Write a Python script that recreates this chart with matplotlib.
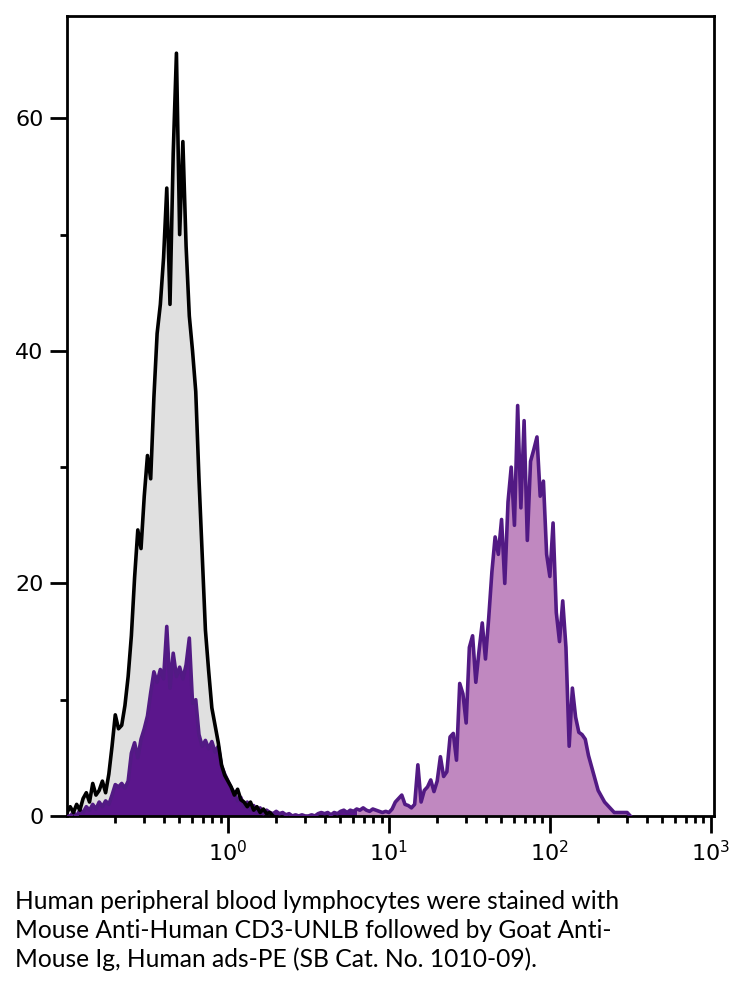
import numpy as np
import matplotlib
matplotlib.use("Agg")
import matplotlib.pyplot as plt
from matplotlib.ticker import FixedLocator, LogLocator, MultipleLocator, NullFormatter

# Histogram heights, on a log10 grid (start -1.0, step 0.02 decade)
log_start = -1.0
log_step = 0.02

# isotype control (black outline, grey fill)
control = [0.3, 0.8, 0.3, 1.0, 0.5, 1.5, 2.0, 1.2, 2.8, 1.8,
           2.2, 3.0, 2.0, 3.6, 6.0, 8.7, 7.5, 7.8, 9.5, 12.0,
           15.5, 20.5, 24.6, 23.0, 27.5, 31.0, 29.0, 36.0, 41.5, 44.0,
           48.0, 54.0, 44.0, 57.0, 65.6, 50.0, 58.0, 49.0, 43.0, 40.0,
           36.5, 29.0, 22.5, 16.0, 12.5, 9.3, 7.8, 6.3, 4.4, 3.5,
           3.0, 2.5, 1.8, 2.3, 1.4, 1.2, 0.8, 1.2, 0.5, 0.8,
           0.3, 0.6, 0.2, 0.3, 0.0]

# CD3 stained sample (purple)
stained = [0, 0, 0.3, 0, 0.5, 0.3, 0.8, 0.5, 1.0, 0.6,
           1.2, 0.8, 1.3, 1.0, 1.8, 2.7, 2.5, 2.8, 2.4, 3.0,
           5.4, 6.3, 5.0, 6.6, 7.5, 8.6, 10.6, 12.4, 11.5, 12.6,
           11.8, 16.3, 11.0, 14.0, 12.0, 12.8, 11.8, 13.0, 15.3, 9.7,
           10.0, 7.0, 6.0, 6.5, 5.8, 6.4, 5.5, 6.0, 4.3, 3.6,
           3.0, 2.4, 2.0, 1.3, 1.6, 0.8, 1.2, 0.5, 0.9, 0.3,
           0.7, 0.2, 0.5, 0.3, 0.2, 0.4, 0.2, 0.3, 0.1, 0.2,
           0, 0.1, 0, 0.1, 0, 0, 0.1, 0, 0.2, 0.3,
           0.2, 0.3, 0.1, 0.3, 0.2, 0.4, 0.5, 0.3, 0.5, 0.4,
           0.6, 0.5, 0.7, 0.5, 0.4, 0.6, 0.5, 0.4, 0.3, 0.4,
           0.3, 0.6, 1.2, 1.5, 1.8, 1.0, 0.9, 0.7, 1.0, 4.4,
           1.2, 2.2, 2.5, 3.1, 2.1, 3.0, 5.1, 3.4, 3.8, 6.8,
           7.1, 4.8, 11.4, 10.5, 8.0, 14.5, 15.5, 11.5, 14.2, 16.6,
           13.5, 17.0, 21.0, 24.0, 22.5, 25.5, 20.0, 27.0, 30.0, 25.0,
           35.3, 26.5, 34.0, 23.7, 30.5, 31.5, 32.6, 27.5, 28.8, 22.5,
           20.6, 25.2, 17.5, 15.0, 18.5, 14.5, 6.0, 11.0, 8.5, 7.2,
           7.0, 6.6, 5.2, 4.2, 3.2, 2.2, 1.7, 1.2, 0.9, 0.6,
           0.3, 0.3, 0.3, 0.3, 0.3, 0.0]

x_ticks = [1, 10, 100, 1000]
y_ticks = [0, 20, 40, 60]
caption = ("Human peripheral blood lymphocytes were stained with\n"
           "Mouse Anti-Human CD3-UNLB followed by Goat Anti-\n"
           "Mouse Ig, Human ads-PE (SB Cat. No. 1010-09).")

x_ctrl = 10 ** (log_start + log_step * np.arange(len(control)))
x_st = 10 ** (log_start + log_step * np.arange(len(stained)))
y_st = np.array(stained)
split = 90  # the low peak is filled dark, the bright peak light

plt.rcParams["font.family"] = "DejaVu Sans"
plt.rcParams["mathtext.fontset"] = "dejavusans"

fig = plt.figure(figsize=(7.41, 9.81), dpi=100)
ax = fig.add_axes([0.0904, 0.1682, 0.8732, 0.8155])

ax.fill_between(x_ctrl, control, color="#e0e0e0", lw=0, zorder=1)
ax.fill_between(x_st[:split + 1], y_st[:split + 1], color="#5b168c", lw=0, zorder=2)
ax.fill_between(x_st[split:], y_st[split:], color="#c088c0", lw=0, zorder=2)
ax.plot(x_st, y_st, color="#521a84", lw=2.6, zorder=3)
ax.plot(x_ctrl, control, color="black", lw=2.6, zorder=4)

ax.set_xscale("log")
ax.set_xlim(0.1, 10 ** 3.02)
ax.set_ylim(0, 68.8)

ax.xaxis.set_major_locator(FixedLocator(x_ticks))
ax.xaxis.set_minor_locator(LogLocator(base=10, subs=np.arange(2, 10), numticks=20))
ax.xaxis.set_minor_formatter(NullFormatter())
ax.set_yticks(y_ticks)
ax.yaxis.set_minor_locator(MultipleLocator(10))

ax.tick_params(which="major", length=12, width=2, labelsize=16, pad=5)
ax.tick_params(which="minor", length=5, width=2)
ax.tick_params(top=False, right=False, which="both")
for s in ax.spines.values():
    s.set_linewidth(2)

fig.text(15 / 741, 1 - 890 / 981, caption, fontsize=17.7, family="Lato",
         va="top", ha="left", linespacing=1.3)

plt.savefig("out.png", dpi=100)
plt.close()
